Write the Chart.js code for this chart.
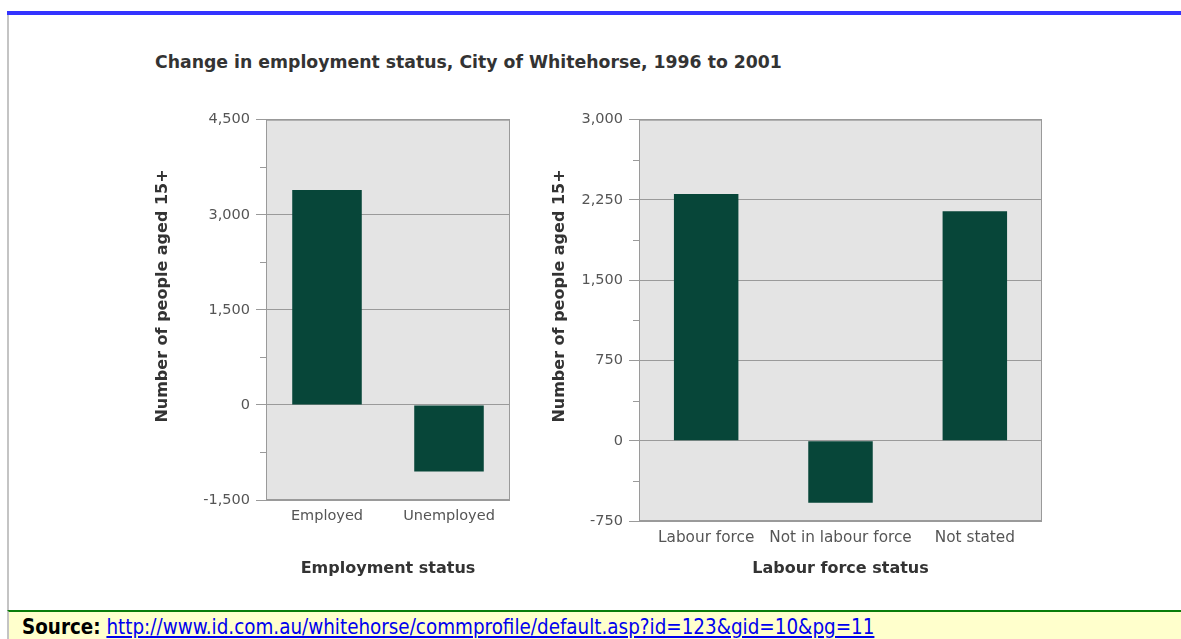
<!DOCTYPE html>
<html>
<head>
<meta charset="utf-8">
<title>Change in employment status</title>
<script src="https://cdn.jsdelivr.net/npm/chart.js@4/dist/chart.umd.min.js"></script>
<style>
    html, body { margin: 0; padding: 0; background: #fff; }
    body { width: 1181px; height: 639px; position: relative; overflow: hidden; }
    #frame-top { position: absolute; left: 7px; right: 0; top: 11px; height: 4px; background: #3333ff; }
    #frame-left { position: absolute; left: 7px; top: 15px; width: 2px; height: 596px; background: #c4c4c4; }
    #source-bar {
        position: absolute; left: 7px; right: 0; top: 610px; height: 40px;
        border-top: 2px solid #0a7d0a; border-left: 2px solid #c4c4c4;
        background: #ffffcc;
        font-family: "DejaVu Sans Condensed", "DejaVu Sans", sans-serif; font-size: 20.4px;
        line-height: 30px; padding-left: 13px;
    }
    #source-bar b { color: #000; }
    #source-bar a { color: #0000ee; text-decoration: underline; }
    #chart-title {
        position: absolute; left: 155px; top: 52px;
        font-family: "DejaVu Sans", sans-serif; font-weight: bold; font-size: 17.3px; color: #333;
        white-space: nowrap;
    }
    .chart-box { position: absolute; top: 105px; height: 480px; }
    #box-1 { left: 150px; width: 370px; }
    #box-2 { left: 547px; width: 505px; }
</style>
</head>
<body>
<div id="frame-top"></div>
<div id="frame-left"></div>
<div id="chart-title">Change in employment status, City of Whitehorse, 1996 to 2001</div>
<div class="chart-box" id="box-1"><canvas id="chart-1"></canvas></div>
<div class="chart-box" id="box-2"><canvas id="chart-2"></canvas></div>
<div id="source-bar"><b>Source:</b> <a href="#">http://www.id.com.au/whitehorse/commprofile/default.asp?id=123&amp;gid=10&amp;pg=11</a></div>

<script>
// employment status change
const employmentLabels = ['Employed', 'Unemployed'];
const employmentValues = [3390, -1050];

// labour force status change
const labourLabels = ['Labour force', 'Not in labour force', 'Not stated'];
const labourValues = [2305, -580, 2145];

const yTitleText = 'Number of people aged 15+';

const barColor = '#074639';
const plotBg = '#e4e4e4';
const lineColor = '#9a9a9a';
const textColor = '#555';

// grey plot box, short ticks for the minor steps, y title
const plotFrame = {
    id: 'plotFrame',
    beforeDraw(chart) {
        const { ctx, chartArea: a } = chart;
        ctx.save();
        ctx.fillStyle = plotBg;
        ctx.fillRect(a.left, a.top, a.right - a.left, a.bottom - a.top);
        ctx.restore();
    },
    afterDraw(chart, args, opts) {
        const { ctx, chartArea: a } = chart;
        const y = chart.scales.y;
        ctx.save();
        ctx.strokeStyle = lineColor;
        ctx.lineWidth = 1;
        ctx.strokeRect(a.left + 0.5, a.top + 0.5, a.right - a.left - 1, a.bottom - a.top - 1);
        y.ticks.forEach(t => {
            if (t.value % opts.major === 0) return;
            const py = Math.round(y.getPixelForValue(t.value)) + 0.5;
            ctx.beginPath();
            ctx.moveTo(a.left - 6, py);
            ctx.lineTo(a.left, py);
            ctx.stroke();
        });

        // axis title sits a little above the plot's middle
        ctx.translate(13, opts.titleY);
        ctx.rotate(-Math.PI / 2);
        ctx.font = 'bold 16px "DejaVu Sans"';
        ctx.fillStyle = '#333';
        ctx.textAlign = 'center';
        ctx.textBaseline = 'middle';
        ctx.fillText(yTitleText, 0, 0);
        ctx.restore();
    }
};

function makeChart(id, labels, values, cfg) {
    const ctx = document.getElementById(id).getContext('2d');
    return new Chart(ctx, {
        type: 'bar',
        data: {
            labels: labels,
            datasets: [{
                data: values,
                backgroundColor: barColor,
                borderWidth: 0,
                barPercentage: cfg.barPct,
                categoryPercentage: 1
            }]
        },
        options: {
            responsive: true,
            maintainAspectRatio: false,
            animation: false,
            layout: { padding: { top: 14, right: 10, left: 0, bottom: 0 } },
            plugins: {
                legend: { display: false },
                tooltip: { enabled: false },
                plotFrame: { major: cfg.major, titleY: cfg.titleY }
            },
            scales: {
                x: {
                    grid: { display: false, drawTicks: false },
                    border: { display: false },
                    ticks: {
                        color: textColor,
                        padding: 8,
                        maxRotation: 0,
                        minRotation: 0,
                        autoSkip: false,
                        font: { family: 'DejaVu Sans', size: cfg.xTickSize }
                    },
                    title: {
                        display: true,
                        text: cfg.xTitle,
                        color: '#333',
                        padding: 7,
                        font: { family: 'DejaVu Sans', size: 16, weight: 'bold' }
                    },
                    afterFit(scale) { scale.height = cfg.xHeight; }
                },
                y: {
                    min: cfg.min,
                    max: cfg.max,
                    border: { display: false },
                    grid: {
                        color: ctx => (ctx.tick && ctx.tick.value % cfg.major === 0 ? lineColor : 'rgba(0,0,0,0)'),
                        tickColor: ctx => (ctx.tick && ctx.tick.value % cfg.major === 0 ? lineColor : 'rgba(0,0,0,0)'),
                        tickLength: 10
                    },
                    ticks: {
                        stepSize: cfg.step,
                        autoSkip: false,
                        color: textColor,
                        padding: 6,
                        font: { family: 'DejaVu Sans', size: 14.5 },
                        callback: v => (v % cfg.major === 0 ? v.toLocaleString('en-US') : '')
                    },
                    afterFit(scale) { scale.width = cfg.yWidth; }
                }
            }
        },
        plugins: [plotFrame]
    });
}

makeChart('chart-1', employmentLabels, employmentValues, {
    min: -1500, max: 4500, step: 750, major: 1500, xTickSize: 14.5,
    barPct: 0.57, xTitle: 'Employment status', xHeight: 85, yWidth: 116, titleY: 191
});

makeChart('chart-2', labourLabels, labourValues, {
    min: -750, max: 3000, step: 375, major: 750, xTickSize: 15.3,
    barPct: 0.48, xTitle: 'Labour force status', xHeight: 64, yWidth: 92, titleY: 191
});
</script>
</body>
</html>
